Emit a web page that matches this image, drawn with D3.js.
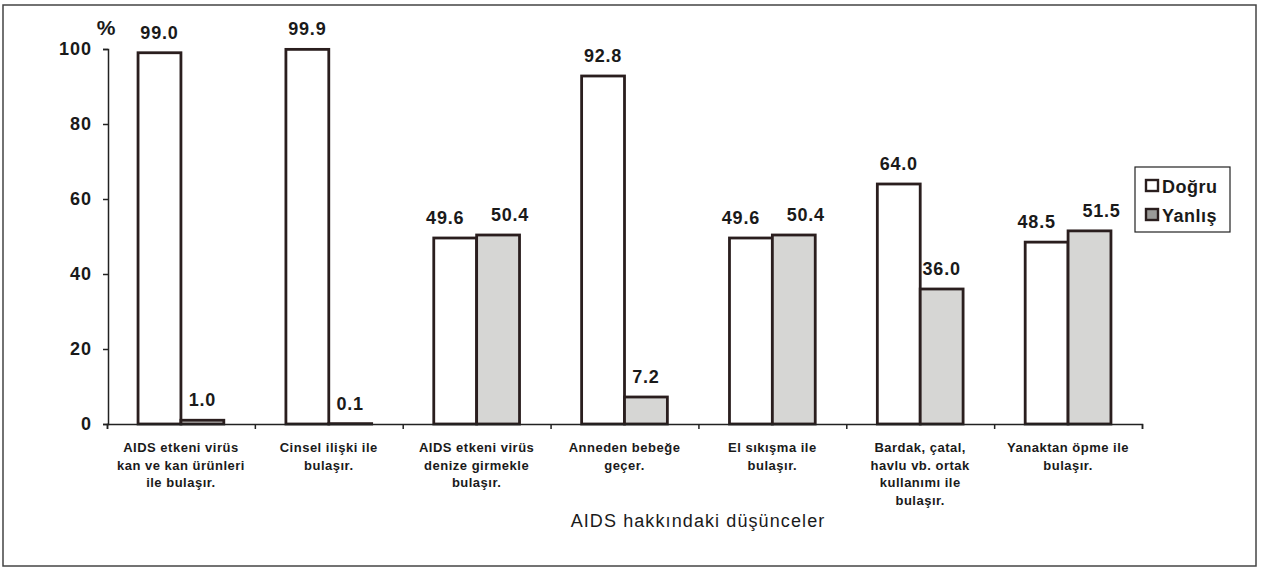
<!DOCTYPE html>
<html>
<head>
<meta charset="utf-8">
<script src="https://cdn.jsdelivr.net/npm/d3@7"></script>
<style>
  body { margin: 0; background: #fff; }
  text { font-family: "Liberation Sans", Arial, sans-serif; fill: #1a1a1a; }
</style>
</head>
<body>
<script>
// data
var categories = [
  ["AIDS etkeni virüs", "kan ve kan ürünleri", "ile bulaşır."],
  ["Cinsel ilişki ile", "bulaşır."],
  ["AIDS etkeni virüs", "denize girmekle", "bulaşır."],
  ["Anneden bebeğe", "geçer."],
  ["El sıkışma ile", "bulaşır."],
  ["Bardak, çatal,", "havlu vb. ortak", "kullanımı ile", "bulaşır."],
  ["Yanaktan öpme ile", "bulaşır."]
];
var seriesNames = ["Doğru", "Yanlış"];
var dogru = [99.0, 99.9, 49.6, 92.8, 49.6, 64.0, 48.5];
var yanlis = [1.0, 0.1, 50.4, 7.2, 50.4, 36.0, 51.5];
var yTicks = [0, 20, 40, 60, 80, 100];
var xTitle = "AIDS hakkındaki düşünceler";

var W = 1265, H = 570;
var fills = ["#ffffff", "#d6d6d4"];
var edge = "#2a1e1e";

var svg = d3.select("body")
  .append("svg")
  .attr("width", W)
  .attr("height", H);

// outer frame
svg.append("rect")
  .attr("x", 3).attr("y", 5)
  .attr("width", 1253).attr("height", 561)
  .attr("fill", "#fff")
  .attr("stroke", "#444")
  .attr("stroke-width", 1.5);

var x0 = d3.scaleBand()
  .domain(d3.range(categories.length))
  .range([107, 1142])
  .paddingInner(0.42)
  .paddingOuter(0.21);

var x1 = d3.scaleBand()
  .domain([0, 1])
  .range([0, x0.bandwidth()]);

var y = d3.scaleLinear().domain([0, 100]).range([424, 49]);

var rows = categories.map(function(c, i) {
  return { i: i, vals: [dogru[i], yanlis[i]] };
});

// bars
var groups = svg.selectAll("g.grp")
  .data(rows)
  .enter()
  .append("g")
  .attr("class", "grp")
  .attr("transform", function(d) { return "translate(" + x0(d.i) + ",0)"; });

groups.selectAll("rect")
  .data(function(d) { return d.vals.map(function(v, s) { return { s: s, v: v }; }); })
  .enter()
  .append("rect")
  .attr("x", function(d) { return x1(d.s); })
  .attr("y", function(d) { return y(d.v); })
  .attr("width", x1.bandwidth())
  .attr("height", function(d) { return y(0) - y(d.v); })
  .attr("fill", function(d) { return fills[d.s]; })
  .attr("stroke", edge)
  .attr("stroke-width", 2.8);

// value labels, pushed apart a bit when the pair is about the same height
groups.each(function(d) {
  var close = Math.abs(d.vals[0] - d.vals[1]) < 10;
  d3.select(this).selectAll("text.val")
    .data(d.vals)
    .enter()
    .append("text")
    .attr("class", "val")
    .attr("x", function(v, s) {
      var shift = close ? (s === 0 ? -10 : 12) : 0;
      return x1(s) + x1.bandwidth() / 2 + shift;
    })
    .attr("y", function(v) { return y(v) - 14; })
    .attr("text-anchor", "middle")
    .style("font-size", "18px")
    .style("font-weight", "bold")
    .style("letter-spacing", "0.8px")
    .text(function(v) { return v.toFixed(1); });
});

// y axis
var yAxis = svg.append("g")
  .attr("transform", "translate(108,0)")
  .call(d3.axisLeft(y).tickValues(yTicks).tickSize(5).tickPadding(11));
yAxis.select(".domain").attr("stroke", "#222").attr("stroke-width", 1.5);
yAxis.selectAll(".tick line").attr("stroke", "#222").attr("stroke-width", 1.5);
yAxis.selectAll(".tick text")
  .style("font-size", "18px")
  .style("font-weight", "bold")
  .style("letter-spacing", "1px")
  .style("font-family", "'Liberation Sans', Arial, sans-serif")
  .attr("fill", "#1a1a1a");

svg.append("text")
  .attr("x", 106).attr("y", 35)
  .attr("text-anchor", "middle")
  .style("font-size", "21px")
  .style("font-weight", "bold")
  .text("%");

// x axis: ticks sit between the categories
var xEdges = d3.range(categories.length + 1).map(function(i) {
  return 107 + i * x0.step();
});
var xEdgeScale = d3.scaleLinear().domain([107, 1142]).range([107, 1142]);
var xAxis = svg.append("g")
  .attr("transform", "translate(0,424)")
  .call(d3.axisBottom(xEdgeScale).tickValues(xEdges).tickSize(5).tickFormat(""));
xAxis.select(".domain").attr("stroke", "#222").attr("stroke-width", 1.5);
xAxis.selectAll(".tick line").attr("stroke", "#222").attr("stroke-width", 1.5);

// category labels
svg.selectAll("text.cat")
  .data(rows)
  .enter()
  .append("text")
  .attr("class", "cat")
  .attr("text-anchor", "middle")
  .style("font-size", "13px")
  .style("font-weight", "bold")
  .style("letter-spacing", "0.5px")
  .each(function(d) {
    var t = d3.select(this);
    categories[d.i].forEach(function(line, k) {
      t.append("tspan")
        .attr("x", x0(d.i) + x0.bandwidth() / 2)
        .attr("y", 452 + k * 17.7)
        .text(line);
    });
  });

svg.append("text")
  .attr("x", 698).attr("y", 527)
  .attr("text-anchor", "middle")
  .style("font-size", "18px")
  .style("letter-spacing", "1.1px")
  .text(xTitle);

// legend
var leg = svg.append("g");
leg.append("rect")
  .attr("x", 1135).attr("y", 167)
  .attr("width", 95).attr("height", 65)
  .attr("fill", "#fff")
  .attr("stroke", "#222")
  .attr("stroke-width", 1.2);

seriesNames.forEach(function(name, s) {
  leg.append("rect")
    .attr("x", 1146).attr("y", 180 + s * 29)
    .attr("width", 12).attr("height", 11)
    .attr("fill", s === 0 ? "#fff" : "#9a9a98")
    .attr("stroke", edge)
    .attr("stroke-width", 2.4);
  leg.append("text")
    .attr("x", 1162).attr("y", 193 + s * 29)
    .style("font-size", "18px")
    .style("font-weight", "bold")
    .style("letter-spacing", "0.5px")
    .text(name);
});
</script>
</body>
</html>
